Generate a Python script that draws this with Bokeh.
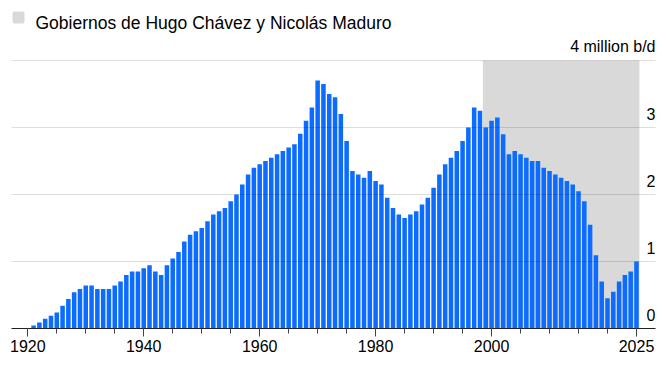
from bokeh.plotting import figure
from bokeh.models import Range1d, FixedTicker, Label, BoxAnnotation
from bokeh.embed import file_html
from bokeh.resources import INLINE

years = list(range(1921, 2026))
production = [
    0.045, 0.09, 0.145, 0.19, 0.24, 0.34, 0.44, 0.54, 0.59, 0.64,      # 1921-1930
    0.64, 0.59, 0.59, 0.59, 0.64, 0.70, 0.80, 0.85, 0.85, 0.90,        # 1931-1940
    0.945, 0.85, 0.80, 0.945, 1.045, 1.14, 1.30, 1.40, 1.45, 1.50,     # 1941-1950
    1.60, 1.70, 1.75, 1.80, 1.90, 2.00, 2.15, 2.30, 2.40, 2.45,        # 1951-1960
    2.50, 2.55, 2.60, 2.65, 2.70, 2.75, 2.905, 3.10, 3.30, 3.70,       # 1961-1970
    3.65, 3.50, 3.45, 3.20, 2.80, 2.35, 2.30, 2.25, 2.35, 2.20,        # 1971-1980
    2.15, 1.95, 1.80, 1.70, 1.65, 1.70, 1.75, 1.85, 1.95, 2.10,        # 1981-1990
    2.30, 2.45, 2.55, 2.65, 2.80, 3.00, 3.30, 3.25, 3.00, 3.10,        # 1991-2000
    3.15, 2.90, 2.60, 2.65, 2.60, 2.55, 2.50, 2.50, 2.40, 2.35,        # 2001-2010
    2.30, 2.25, 2.20, 2.15, 2.05, 1.90, 1.55, 1.095, 0.70, 0.45,       # 2011-2020
    0.55, 0.70, 0.80, 0.85, 1.00,                                      # 2021-2025
]

gov_start, gov_end = 1998.5, 2025.5
major_years = [1920, 1940, 1960, 1980, 2000, 2025]
minor_years = list(range(1920, 2026, 5))
y_levels = [0, 1, 2, 3, 4]
y_labels = ["0", "1", "2", "3", "4 million b/d"]
legend_text = "Gobiernos de Hugo Chávez y Nicolás Maduro"

FONT = "Liberation Sans"
BLUE = "#0b6cff"
GRAY = "#d9d9d9"
TEXT = "#000000"

p = figure(width=668, height=366, output_backend="svg", toolbar_location=None,
           x_range=Range1d(1917.19, 2028.28), y_range=Range1d(0, 320 / 67),
           min_border_left=11, min_border_right=13, min_border_top=8, min_border_bottom=38)
p.outline_line_color = None
p.background_fill_color = "white"
p.border_fill_color = "white"

# shading for the governments
p.quad(left=[gov_start], right=[gov_end], bottom=[0], top=[4], color=GRAY, line_color=None)

# bars
p.vbar(x=years, top=production, width=0.78, color=BLUE, line_color=None)

# grid
p.xgrid.visible = False
p.ygrid.ticker = FixedTicker(ticks=[1, 2, 3, 4])
p.ygrid.grid_line_color = "black"
p.ygrid.grid_line_alpha = 0.13
p.ygrid.grid_line_width = 1.2
p.ygrid.level = "overlay"

p.yaxis.visible = False

ax = p.xaxis[0]
ax.ticker = FixedTicker(ticks=major_years, minor_ticks=minor_years)
ax.axis_line_color = "#222222"
ax.axis_line_width = 1.2
ax.major_tick_line_color = "#444444"
ax.minor_tick_line_color = "#444444"
ax.major_tick_out = 8
ax.major_tick_in = 0
ax.minor_tick_out = 5
ax.minor_tick_in = 0
ax.major_label_text_font = FONT
ax.major_label_text_font_size = "16px"
ax.major_label_text_color = TEXT
ax.major_label_standoff = 3

# right side value labels
for yv, txt in zip(y_levels, y_labels):
    p.add_layout(Label(x=644, x_units="screen", y=yv, y_units="data", y_offset=14,
                       text=txt, text_align="right", text_baseline="alphabetic",
                       text_font=FONT, text_font_size="16px", text_color=TEXT))

# legend
p.add_layout(BoxAnnotation(left=1, right=13, bottom=305, top=317,
                           left_units="screen", right_units="screen",
                           bottom_units="screen", top_units="screen",
                           fill_color=GRAY, fill_alpha=1, line_color=None,
                           border_radius=2, level="overlay"))
p.add_layout(Label(x=24, x_units="screen", y=306, y_units="screen",
                   text=legend_text, text_align="left", text_baseline="alphabetic",
                   text_font=FONT, text_font_size="17.5px", text_color=TEXT))

open("out.html", "w").write(file_html(p, INLINE))
